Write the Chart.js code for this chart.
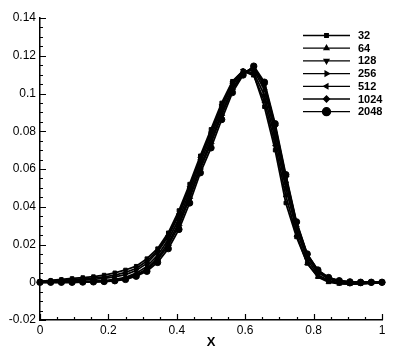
<!DOCTYPE html>
<html>
<head>
<meta charset="utf-8">
<script src="https://cdn.jsdelivr.net/npm/chart.js@4/dist/chart.umd.min.js"></script>
<style>
  html, body { margin: 0; padding: 0; background: #fff; }
  #wrap { width: 399px; height: 355px; }
</style>
</head>
<body>
<div id="wrap"><canvas id="plot" width="399" height="355"></canvas></div>
<script>
// x positions of the samples
const xs = [0, 0.03125, 0.0625, 0.09375, 0.125, 0.15625, 0.1875, 0.21875, 0.25, 0.28125,
  0.3125, 0.34375, 0.375, 0.40625, 0.4375, 0.46875, 0.5, 0.53125, 0.5625, 0.59375,
  0.625, 0.65625, 0.6875, 0.71875, 0.75, 0.78125, 0.8125, 0.84375, 0.875, 0.90625,
  0.9375, 0.96875, 1];

const labels = ["32", "64", "128", "256", "512", "1024", "2048"];

const y32 = [0.0005, 0.0010, 0.0015, 0.0020, 0.0025, 0.0030, 0.0038, 0.0050, 0.0065, 0.0085,
  0.0125, 0.0178, 0.0262, 0.0380, 0.0520, 0.0670, 0.0810, 0.0950, 0.1065, 0.1120,
  0.1100, 0.0930, 0.0700, 0.0420, 0.0240, 0.0100, 0.0030, 0.0005, -0.0005, -0.0008,
  -0.0008, -0.0005, -0.0003];
const y64 = [0.0004, 0.0008, 0.0011, 0.0014, 0.0018, 0.0022, 0.0028, 0.0038, 0.0052, 0.0073,
  0.0112, 0.0168, 0.0250, 0.0365, 0.0505, 0.0655, 0.0795, 0.0940, 0.1060, 0.1120,
  0.1095, 0.0960, 0.0730, 0.0460, 0.0250, 0.0100, 0.0028, 0.0000, -0.0008, -0.0010,
  -0.0008, -0.0005, -0.0002];
const y128 = [0.0003, 0.0005, 0.0007, 0.0009, 0.0012, 0.0015, 0.0020, 0.0028, 0.0040, 0.0062,
  0.0100, 0.0160, 0.0242, 0.0355, 0.0500, 0.0655, 0.0790, 0.0935, 0.1055, 0.1120,
  0.1110, 0.0990, 0.0760, 0.0500, 0.0275, 0.0120, 0.0040, 0.0008, -0.0004, -0.0007,
  -0.0006, -0.0004, -0.0002];
const y256 = [0.0001, 0.0001, 0.0002, 0.0003, 0.0004, 0.0006, 0.0009, 0.0015, 0.0026, 0.0048,
  0.0084, 0.0142, 0.0225, 0.0335, 0.0480, 0.0635, 0.0770, 0.0920, 0.1045, 0.1115,
  0.1125, 0.1020, 0.0790, 0.0530, 0.0295, 0.0135, 0.0052, 0.0016, 0.0003, -0.0002,
  -0.0002, -0.0001, 0];
const y512 = [0, 0, 0, 0.0001, 0.0002, 0.0003, 0.0006, 0.0011, 0.0020, 0.0040,
  0.0072, 0.0128, 0.0208, 0.0315, 0.0460, 0.0615, 0.0750, 0.0900, 0.1030, 0.1110,
  0.1135, 0.1040, 0.0815, 0.0550, 0.0310, 0.0145, 0.0060, 0.0022, 0.0007, 0.0001,
  0, 0, 0];
const y1024 = [0, 0, 0, 0, 0.0001, 0.0002, 0.0005, 0.0009, 0.0017, 0.0035,
  0.0065, 0.0118, 0.0195, 0.0300, 0.0445, 0.0600, 0.0735, 0.0885, 0.1020, 0.1105,
  0.1140, 0.1050, 0.0830, 0.0560, 0.0315, 0.0148, 0.0064, 0.0024, 0.0008, 0.0002,
  0, 0, 0];
const y2048 = [0, 0, 0, 0, 0.0001, 0.0002, 0.0004, 0.0008, 0.0015, 0.0032,
  0.0058, 0.0105, 0.0178, 0.0280, 0.0420, 0.0580, 0.0712, 0.0862, 0.1005, 0.1098,
  0.1145, 0.1060, 0.0840, 0.0570, 0.0320, 0.0150, 0.0065, 0.0025, 0.0008, 0.0002,
  0, 0, 0];

const series = [y32, y64, y128, y256, y512, y1024, y2048];
const markers = [
  { style: "rect", rot: 0, r: 2.5 },
  { style: "triangle", rot: 0, r: 2.8 },
  { style: "triangle", rot: 180, r: 2.8 },
  { style: "triangle", rot: 90, r: 2.8 },
  { style: "triangle", rot: 270, r: 2.8 },
  { style: "rectRot", rot: 0, r: 3 },
  { style: "circle", rot: 0, r: 3.2 }
];

const datasets = series.map(function (ys, i) {
  return {
    label: labels[i],
    data: xs.map(function (x, k) { return { x: x, y: ys[k] }; }),
    borderColor: "#000",
    backgroundColor: "#000",
    borderWidth: 1.8,
    pointStyle: markers[i].style,
    rotation: markers[i].rot,
    pointRadius: markers[i].r,
    pointBorderWidth: 1,
    pointBackgroundColor: "#000",
    pointBorderColor: "#000",
    tension: 0,
    clip: false
  };
});

// plain number labels: 0, 0.1, -0.02, 1
function plainLabel(v) {
  return String(+v.toFixed(3));
}

// inward ticks, major and minor
const tickPlugin = {
  id: "inwardTicks",
  afterDraw(chart) {
    const ctx = chart.ctx;
    const xs_ = chart.scales.x, ys_ = chart.scales.y;
    const left = chart.chartArea.left, bottom = chart.chartArea.bottom;
    ctx.save();
    ctx.strokeStyle = "#000";
    ctx.lineWidth = 1.2;
    ctx.beginPath();
    for (let i = 0; i <= 32; i++) {
      const py = Math.round(ys_.getPixelForValue(-0.02 + i * 0.005)) + 0.5;
      const len = i % 4 === 0 ? 6 : 3;
      ctx.moveTo(left, py);
      ctx.lineTo(left + len, py);
    }
    for (let i = 0; i <= 20; i++) {
      const px = Math.round(xs_.getPixelForValue(i * 0.05)) + 0.5;
      const len = i % 4 === 0 ? 6 : 3;
      ctx.moveTo(px, bottom);
      ctx.lineTo(px, bottom - len);
    }
    ctx.stroke();
    ctx.restore();
  }
};

// legend: line with marker in the middle, label on the right
const legendPlugin = {
  id: "lineLegend",
  afterDraw(chart) {
    const ctx = chart.ctx;
    ctx.save();
    ctx.font = "bold 11px 'Liberation Sans', Arial, sans-serif";
    ctx.textBaseline = "middle";
    ctx.textAlign = "left";
    chart.data.datasets.forEach(function (ds, i) {
      const y = 35.5 + i * 12.7;
      ctx.strokeStyle = "#000";
      ctx.lineWidth = 1.3;
      ctx.beginPath();
      ctx.moveTo(303, y);
      ctx.lineTo(350, y);
      ctx.stroke();
      ctx.fillStyle = "#000";
      Chart.helpers.drawPoint(ctx, {
        pointStyle: ds.pointStyle,
        rotation: ds.rotation,
        radius: i === 6 ? 4 : ds.pointRadius,
        borderWidth: 1
      }, 326.5, y);
      ctx.fillStyle = "#000";
      ctx.fillText(ds.label, 358, y + 0.5);
    });
    ctx.restore();
  }
};

new Chart(document.getElementById("plot").getContext("2d"), {
  type: "line",
  data: { datasets: datasets },
  options: {
    responsive: false,
    animation: false,
    layout: { padding: { top: 18, right: 17, left: 0, bottom: 0 } },
    plugins: { legend: { display: false }, tooltip: { enabled: false } },
    scales: {
      x: {
        type: "linear",
        min: 0, max: 1,
        grid: { display: false, drawTicks: false },
        border: { display: true, color: "#000", width: 1.5 },
        ticks: { stepSize: 0.2, color: "#000", padding: 3, maxRotation: 0,
                 callback: plainLabel,
                 font: { family: "'Liberation Sans', Arial, sans-serif", size: 12 } },
        title: { display: true, text: "X", color: "#000", padding: { top: 0, bottom: 5 },
                 font: { family: "'Liberation Sans', Arial, sans-serif", size: 13, weight: "bold" } },
        afterFit(scale) { scale.height = 35; }
      },
      y: {
        min: -0.02, max: 0.14,
        grid: { display: false, drawTicks: false },
        border: { display: true, color: "#000", width: 1.5 },
        ticks: { stepSize: 0.02, color: "#000", padding: 4,
                 callback: plainLabel,
                 font: { family: "'Liberation Sans', Arial, sans-serif", size: 12 } },
        afterFit(scale) { scale.width = 40; }
      }
    }
  },
  plugins: [tickPlugin, legendPlugin]
});
</script>
</body>
</html>
